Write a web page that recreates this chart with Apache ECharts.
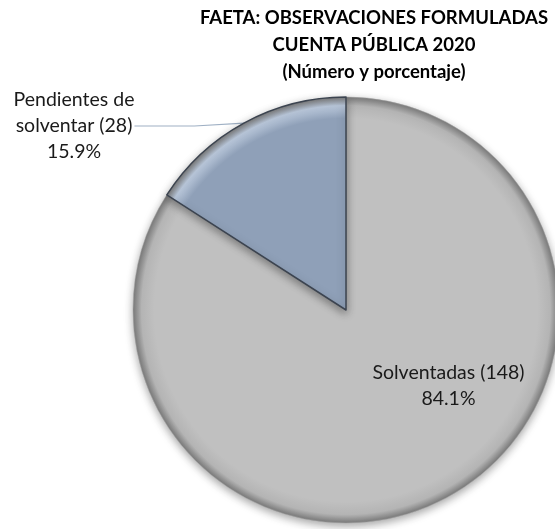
<!DOCTYPE html>
<html>
<head>
<meta charset="utf-8">
<script src="https://cdn.jsdelivr.net/npm/echarts@6/dist/echarts.min.js"></script>
<style>
  html, body {margin: 0; padding: 0; background: #fff;}
  #main {width: 555px; height: 529px;}
</style>
</head>
<body>
<div id="main"></div>
<script>
// datos de la gráfica
var categorias = ['Solventadas', 'Pendientes de\nsolventar'];
var valores = [148, 28];
var colores = ['#c0c0c0', '#8fa0b8'];
var bordes = ['#a8a8a8', '#3c4450'];

var cx = 346, cy = 310, radio = 213;

var mychart = echarts.init(document.getElementById('main'));

function relleno(base, borde) {
    return {
        type: 'radial', x: cx, y: cy, r: radio, global: true,
        colorStops: [
            {offset: 0, color: base},
            {offset: 0.9, color: base},
            {offset: 0.96, color: borde},
            {offset: 1, color: '#7a7a7a'}
        ]
    };
}

var datos = categorias.map(function (c, i) {
    return {
        name: c,
        value: valores[i],
        itemStyle: {
            color: i === 0 ? relleno(colores[0], '#b4b4b4') : relleno(colores[1], '#b9c7da'),
            borderColor: bordes[i],
            borderWidth: i === 0 ? 0.5 : 1.5
        },
        label: i === 0 ? {position: 'inside', offset: [50, -20]} : {position: 'outside'}
    };
});

var option = {
    backgroundColor: '#ffffff',
    title: {
        text: 'FAETA: OBSERVACIONES FORMULADAS\nCUENTA PÚBLICA 2020\n(Número y porcentaje)',
        left: 369, top: 0, textAlign: 'center',
        textStyle: {fontFamily: 'Lato', fontWeight: 'bold', fontSize: 18.5, lineHeight: 27, color: '#000'}
    },
    series: [{
        type: 'pie',
        center: [cx, cy],
        radius: radio,
        startAngle: 90,
        clockwise: true,
        percentPrecision: 1,
        animation: false,
        data: datos,
        itemStyle: {shadowBlur: 8, shadowOffsetY: 3, shadowColor: 'rgba(0,0,0,0.35)'},
        label: {
            formatter: '{b} ({c})\n{d}%',
            fontFamily: 'Lato', fontSize: 19.5, lineHeight: 26, color: '#1a1a1a', align: 'center'
        },
        labelLine: {show: true, length: 5, length2: 60, lineStyle: {color: '#9fb0c4', width: 1.2}},
        labelLayout: function (p) {
            if (p.dataIndex === 1) {
                return {x: 74, y: 126, align: 'center', verticalAlign: 'middle'};
            }
        }
    }]
};
mychart.setOption(option);
</script>
</body>
</html>
